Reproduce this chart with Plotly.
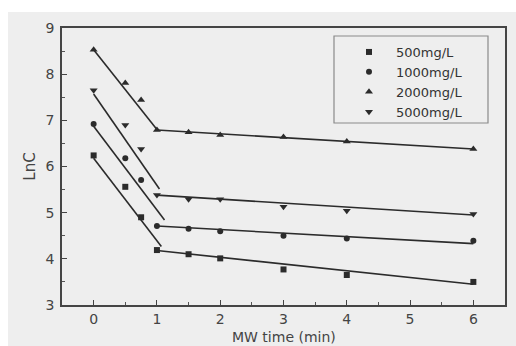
import plotly.graph_objects as go
import numpy as np

# Microwave treatment time (min) and ln of concentration for each initial dose
time_min = [0, 0.5, 0.75, 1, 1.5, 2, 3, 4, 6]
series_names = ["500mg/L", "1000mg/L", "2000mg/L", "5000mg/L"]
lnc_500 = [6.24, 5.56, 4.90, 4.19, 4.10, 4.01, 3.77, 3.65, 3.50]
lnc_1000 = [6.92, 6.18, 5.71, 4.71, 4.65, 4.60, 4.50, 4.44, 4.39]
lnc_2000 = [8.53, 7.81, 7.44, 6.79, 6.74, 6.68, 6.64, 6.54, 6.38]
lnc_5000 = [7.65, 6.90, 6.38, 5.38, 5.29, 5.29, 5.13, 5.04, 4.97]

# Two-stage linear fits: fast stage (0 to ~1 min) and slow stage (1 to 6 min)
fast_intercept = [6.18, 6.87, 8.53, 7.57]
fast_slope = [-1.79, -1.81, -1.73, -1.98]
fast_end = [1.07, 1.12, 1.00, 1.04]
slow_intercept = [4.326, 4.786, 6.872, 5.466]
slow_slope = [-0.146, -0.076, -0.082, -0.086]
slow_range = [1, 6]

series_values = [lnc_500, lnc_1000, lnc_2000, lnc_5000]
symbols = ["square", "circle", "triangle-up", "triangle-down"]
sizes = [6, 6, 7, 7]

W, H = 516, 346
ML, MR, MT, MB = 62, 11, 28, 41
PW, PH = W - ML - MR, H - MT - MB
bg = "#eeeeee"
ink = "#2b2b2b"
font_family = "DejaVu Sans, Verdana, sans-serif"


def px_x(p):
    return (p - ML) / PW


def px_y(p):
    return (H - MB - p) / PH


fig = go.Figure()

# fitted lines
for i in range(4):
    xf = np.array([0, fast_end[i]])
    fig.add_trace(go.Scatter(x=xf, y=fast_intercept[i] + fast_slope[i] * xf,
                             mode="lines", line=dict(color=ink, width=1.6),
                             showlegend=False, hoverinfo="skip"))
    xs = np.array(slow_range)
    fig.add_trace(go.Scatter(x=xs, y=slow_intercept[i] + slow_slope[i] * xs,
                             mode="lines", line=dict(color=ink, width=1.6),
                             showlegend=False, hoverinfo="skip"))

# measured points
for name, vals, sym, sz in zip(series_names, series_values, symbols, sizes):
    fig.add_trace(go.Scatter(x=time_min, y=vals, mode="markers", name=name,
                             marker=dict(symbol=sym, size=sz, color=ink,
                                         line=dict(width=0))))

# gray panel behind the chart (white strip at top and left)
fig.add_shape(type="rect", xref="paper", yref="paper",
              x0=px_x(8), x1=1.2, y0=-0.3, y1=px_y(12),
              fillcolor=bg, line=dict(width=0), layer="below")
# legend frame
fig.add_shape(type="rect", xref="paper", yref="paper",
              x0=px_x(334), x1=px_x(488), y0=px_y(123), y1=px_y(36),
              fillcolor="rgba(0,0,0,0)", line=dict(color="#8a8a8a", width=1.2))

# x-axis title near the bottom edge
fig.add_annotation(text="MW time (min)", xref="paper", yref="paper",
                   x=px_x(284), y=px_y(327), xanchor="center", yanchor="top",
                   showarrow=False,
                   font=dict(family=font_family, size=14, color="#444444"))

axis_common = dict(
    showline=True, linecolor="#444444", linewidth=1.5, mirror=True,
    ticks="inside", ticklen=5, tickwidth=1.2, tickcolor="#444444",
    showgrid=False, zeroline=False, automargin=False,
    tickfont=dict(family=font_family, size=14, color="#444444"),
    minor=dict(ticks="inside", ticklen=3, tickwidth=1, tickcolor="#555555",
               dtick=0.5, showgrid=False),
)

fig.update_layout(
    width=W, height=H,
    margin=dict(l=ML, r=MR, t=MT, b=MB),
    paper_bgcolor="white",
    plot_bgcolor="rgba(0,0,0,0)",
    showlegend=True,
    legend=dict(x=px_x(342), y=px_y(37),
                xanchor="left", yanchor="top",
                bgcolor="rgba(0,0,0,0)", borderwidth=0,
                font=dict(family=font_family, size=13, color="#333333"),
                tracegroupgap=0, itemwidth=44),
    xaxis=dict(range=[-0.5, 6.5], dtick=1, tick0=0, ticklabelstandoff=0,
               **axis_common),
    yaxis=dict(range=[3, 9], dtick=1, tick0=3, ticklabelstandoff=3,
               title=dict(text="LnC", standoff=6,
                          font=dict(family=font_family, size=15, color="#444444")),
               **axis_common),
)

fig.write_html("out.html")
